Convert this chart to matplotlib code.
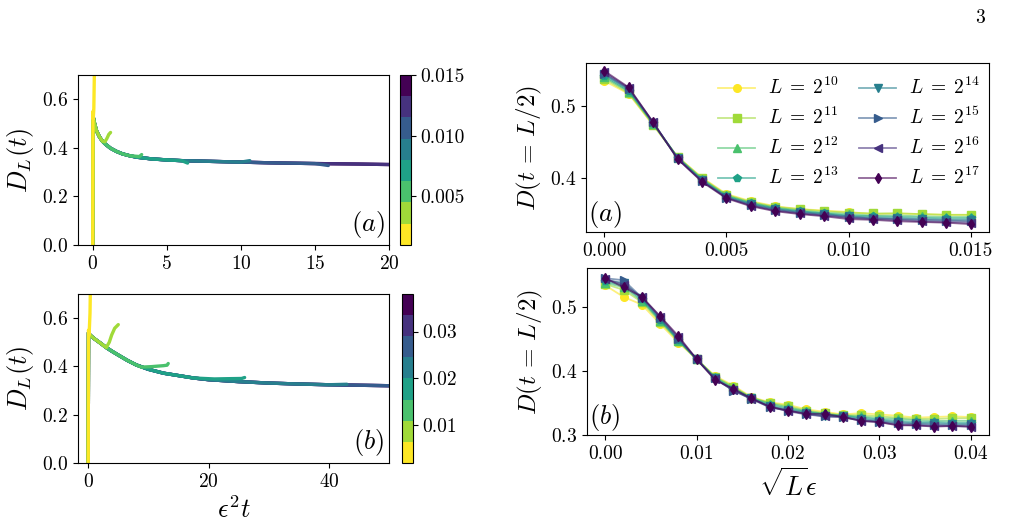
import numpy as np
import matplotlib
matplotlib.use("Agg")
import matplotlib.pyplot as plt
import matplotlib as mpl

plt.rcParams['font.family'] = 'serif'
plt.rcParams['font.serif'] = ['cmr10']
plt.rcParams['mathtext.fontset'] = 'cm'
plt.rcParams['axes.formatter.use_mathtext'] = True
plt.rcParams['xtick.labelsize'] = 14
plt.rcParams['ytick.labelsize'] = 14

# ---- left panels: D_L(t) vs eps^2 t, one curve per eps ----
eps_a = [0.001, 0.003, 0.005, 0.007, 0.009, 0.011, 0.013, 0.015]
main_x_a = [0.0, 0.02, 0.1, 0.25, 0.45, 0.65, 0.85, 1.2, 1.6, 2.0, 2.5, 3.0, 4.0, 5.0, 6.0,
            8.0, 10.0, 12.0, 15.0, 18.0, 20.0, 25.0, 30.0]
main_y_a = [0.0, 0.53, 0.505, 0.47, 0.445, 0.427, 0.415, 0.398, 0.385, 0.375, 0.367, 0.361, 0.354,
            0.350, 0.347, 0.344, 0.341, 0.338, 0.335, 0.333, 0.331, 0.329, 0.328]
# where each curve leaves the common curve, and its end hook
cut_a = [0.0, 0.8, 2.9, 6.1, 10.1, 15.1, 22.0, 30.0]
hook_x_a = [[0.0, 0.01, 0.03, 0.07, 0.10, 0.13],
            [0.82, 0.95, 1.08, 1.2],
            [3.15, 3.3],
            [6.4],
            [10.6],
            [15.9],
            [],
            []]
hook_y_a = [[0.0, 0.55, 0.52, 0.56, 0.68, 0.80],
            [0.425, 0.438, 0.455, 0.463],
            [0.364, 0.372],
            [0.337],
            [0.347],
            [0.327],
            [],
            []]

eps_b = [0.002, 0.0071, 0.0123, 0.0174, 0.0226, 0.0277, 0.0329, 0.038]
main_x_b = [0.0, 0.05, 0.3, 1.0, 2.0, 3.0, 4.0, 5.0, 6.5, 8.0, 10.0, 12.5, 15.0, 17.5, 20.0,
            25.0, 30.0, 35.0, 40.0, 45.0, 50.0, 55.0]
main_y_b = [0.0, 0.54, 0.53, 0.515, 0.497, 0.478, 0.462, 0.447, 0.425, 0.406, 0.388, 0.372,
            0.362, 0.352, 0.345, 0.337, 0.331, 0.327, 0.324, 0.322, 0.320, 0.319]
cut_b = [0.0, 3.1, 8.5, 19.0, 41.0, 55.0, 55.0, 55.0]
hook_x_b = [[0.0, 0.05, 0.15, 0.3, 0.4],
            [3.5, 3.9, 4.4, 5.0],
            [8.85, 10.5, 12.5, 13.1, 13.3],
            [21.0, 23.0, 25.5, 26.0],
            [43.0],
            [], [], []]
hook_y_b = [[0.0, 0.55, 0.53, 0.62, 0.78],
            [0.50, 0.53, 0.558, 0.573],
            [0.397, 0.399, 0.403, 0.405, 0.412],
            [0.348, 0.349, 0.350, 0.354],
            [0.326],
            [], [], []]

# ---- right panels: D(t=L/2) ----
labels = [r'$L\;=\;2^{10}$', r'$L\;=\;2^{11}$', r'$L\;=\;2^{12}$', r'$L\;=\;2^{13}$',
          r'$L\;=\;2^{14}$', r'$L\;=\;2^{15}$', r'$L\;=\;2^{16}$', r'$L\;=\;2^{17}$']
markers = ['o', 's', '^', 'p', 'v', '>', '<', 'd']

eps_r = [0.000, 0.001, 0.002, 0.003, 0.004, 0.005, 0.006, 0.007, 0.008, 0.009, 0.010,
         0.011, 0.012, 0.013, 0.014, 0.015]
D_a = [
    [0.535, 0.517, 0.473, 0.429, 0.400, 0.377, 0.367, 0.360, 0.356, 0.354, 0.352, 0.349, 0.350, 0.349, 0.348, 0.348],
    [0.538, 0.518, 0.474, 0.429, 0.399, 0.376, 0.366, 0.359, 0.356, 0.353, 0.351, 0.350, 0.350, 0.349, 0.348, 0.348],
    [0.540, 0.520, 0.475, 0.428, 0.398, 0.375, 0.365, 0.358, 0.354, 0.351, 0.349, 0.347, 0.347, 0.346, 0.345, 0.345],
    [0.542, 0.521, 0.476, 0.428, 0.397, 0.374, 0.364, 0.357, 0.353, 0.350, 0.347, 0.346, 0.345, 0.344, 0.343, 0.343],
    [0.544, 0.523, 0.476, 0.427, 0.396, 0.373, 0.363, 0.356, 0.352, 0.349, 0.346, 0.344, 0.343, 0.342, 0.341, 0.341],
    [0.545, 0.524, 0.477, 0.427, 0.395, 0.372, 0.362, 0.355, 0.351, 0.348, 0.345, 0.343, 0.342, 0.341, 0.340, 0.339],
    [0.547, 0.525, 0.477, 0.426, 0.395, 0.372, 0.361, 0.354, 0.350, 0.347, 0.344, 0.342, 0.341, 0.339, 0.338, 0.337],
    [0.549, 0.526, 0.477, 0.426, 0.394, 0.371, 0.360, 0.353, 0.349, 0.346, 0.342, 0.341, 0.339, 0.338, 0.337, 0.335],
]

sqrtL_eps = [0.000, 0.002, 0.004, 0.006, 0.008, 0.010, 0.012, 0.014, 0.016, 0.018, 0.020,
             0.022, 0.024, 0.026, 0.028, 0.030, 0.032, 0.034, 0.036, 0.038, 0.040]
D_b = [
    [0.533, 0.515, 0.503, 0.473, 0.444, 0.418, 0.392, 0.377, 0.359, 0.351, 0.347, 0.340, 0.336, 0.332, 0.334, 0.332, 0.330, 0.327, 0.328, 0.329, 0.328],
    [0.535, 0.526, 0.507, 0.476, 0.446, 0.418, 0.391, 0.375, 0.358, 0.350, 0.345, 0.338, 0.334, 0.331, 0.331, 0.329, 0.327, 0.325, 0.325, 0.326, 0.326],
    [0.537, 0.530, 0.509, 0.478, 0.447, 0.418, 0.390, 0.374, 0.358, 0.349, 0.343, 0.337, 0.333, 0.330, 0.329, 0.326, 0.325, 0.323, 0.322, 0.322, 0.322],
    [0.539, 0.533, 0.511, 0.479, 0.448, 0.418, 0.389, 0.372, 0.357, 0.347, 0.341, 0.336, 0.332, 0.330, 0.327, 0.324, 0.322, 0.320, 0.320, 0.319, 0.319],
    [0.541, 0.537, 0.513, 0.481, 0.449, 0.418, 0.388, 0.370, 0.357, 0.345, 0.339, 0.335, 0.330, 0.329, 0.325, 0.322, 0.320, 0.318, 0.318, 0.317, 0.317],
    [0.544, 0.541, 0.514, 0.482, 0.450, 0.418, 0.388, 0.369, 0.356, 0.343, 0.338, 0.333, 0.329, 0.328, 0.323, 0.321, 0.318, 0.317, 0.316, 0.315, 0.315],
    [0.543, 0.534, 0.515, 0.484, 0.452, 0.418, 0.387, 0.370, 0.356, 0.344, 0.337, 0.332, 0.329, 0.328, 0.322, 0.320, 0.316, 0.315, 0.314, 0.314, 0.313],
    [0.544, 0.530, 0.515, 0.485, 0.454, 0.418, 0.386, 0.372, 0.357, 0.344, 0.338, 0.333, 0.333, 0.328, 0.322, 0.320, 0.315, 0.315, 0.313, 0.314, 0.313],
]

fig = plt.figure(figsize=(10.1, 5.29), dpi=100)

cmap8 = plt.get_cmap('viridis_r', 8)


def left_panel(rect, crect, eps, mx, my, cut, hx, hy, xlim, xticks, cticks, cfmt, tag):
    ax = fig.add_axes(rect)
    norm = mpl.colors.Normalize(vmin=min(eps), vmax=max(eps))
    # largest eps first so the small eps curves sit on top
    for i in reversed(range(len(eps))):
        xs = [x for x in mx if x < cut[i]] if i > 0 else []
        ys = my[:len(xs)]
        ax.plot(xs + hx[i], ys + hy[i], color=cmap8(norm(eps[i])), lw=2.4,
                solid_capstyle='round')
    ax.set_xlim(xlim)
    ax.set_ylim(0, 0.7)
    ax.set_xticks(xticks)
    ax.set_yticks([0.0, 0.2, 0.4, 0.6])
    ax.set_ylabel(r'$D_L(t)$', fontsize=19)
    ax.text(0.985, 0.03, tag, transform=ax.transAxes, ha='right', va='bottom', fontsize=19)
    cax = fig.add_axes(crect)
    sm = mpl.cm.ScalarMappable(norm=norm, cmap=cmap8)
    cb = fig.colorbar(sm, cax=cax, ticks=cticks, format=cfmt)
    cb.ax.tick_params(labelsize=14)
    return ax


ax1 = left_panel([0.0772, 0.537, 0.308, 0.3214], [0.396, 0.537, 0.0109, 0.3214],
                 eps_a, main_x_a, main_y_a, cut_a, hook_x_a, hook_y_a,
                 (-1, 20), [0, 5, 10, 15, 20], [0.005, 0.010, 0.015], '%.3f', r'$(a)$')
ax2 = left_panel([0.0772, 0.1248, 0.308, 0.3195], [0.398, 0.1248, 0.0109, 0.3195],
                 eps_b, main_x_b, main_y_b, cut_b, hook_x_b, hook_y_b,
                 (-1.7, 50), [0, 20, 40], [0.01, 0.02, 0.03], '%.2f', r'$(b)$')
ax2.set_xlabel(r'$\epsilon^2 t$', fontsize=19)

colors = [plt.get_cmap('viridis_r')(v) for v in np.linspace(0, 1, 8)]


def right_panel(rect, x, data, ylim, yticks, xticks, fmt, tag):
    ax = fig.add_axes(rect)
    for i in range(8):
        c = colors[i]
        ax.plot(x, data[i], color=(c[0], c[1], c[2], 0.6), lw=1.3, marker=markers[i], ms=5.5,
                mfc=c, mec=c, label=labels[i])
    ax.set_ylim(ylim)
    ax.set_yticks(yticks)
    ax.set_xticks(xticks)
    ax.xaxis.set_major_formatter(mpl.ticker.FormatStrFormatter(fmt))
    ax.set_ylabel(r'$D(t\,=\,L/2)$', fontsize=18)
    ax.text(0.005, 0.01, tag, transform=ax.transAxes, ha='left', va='bottom', fontsize=19)
    return ax


ax3 = right_panel([0.5802, 0.5614, 0.399, 0.3195], eps_r, D_a, (0.324, 0.56), [0.4, 0.5],
                  [0.0, 0.005, 0.010, 0.015], '%.3f', r'$(a)$')
ax3.legend(ncol=2, frameon=False, fontsize=14, loc='upper right', handlelength=1.9,
           columnspacing=1.1, labelspacing=0.45, handletextpad=0.65,
           bbox_to_anchor=(1.02, 1.02))
ax4 = right_panel([0.5812, 0.1777, 0.398, 0.3157], sqrtL_eps, D_b, (0.3, 0.56), [0.3, 0.4, 0.5],
                  [0.0, 0.01, 0.02, 0.03, 0.04], '%.2f', r'$(b)$')
ax4.set_xlabel(r'$\sqrt{L}\epsilon$', fontsize=19)

fig.text(0.975, 0.965, '3', fontsize=14, ha='right', va='center')

fig.savefig('out.png', dpi=100)
